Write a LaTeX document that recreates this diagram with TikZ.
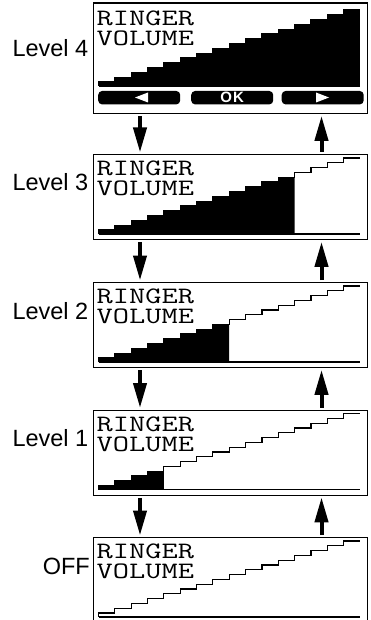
\documentclass[tikz,border=0pt]{standalone}
\usepackage{fontspec}
\setmainfont{Liberation Sans}
\usetikzlibrary{arrows.meta}
\newcommand{\lcdword}[1]{\scalebox{1.34}[1]{#1}}
\tikzset{
  lcd/.style={draw, line width=1.3pt, minimum width=274.5pt, inner sep=0pt, anchor=north west},
  lcdtext/.style={anchor=base west, inner sep=0pt, font=\ttfamily\fontsize{23.5}{23.5}\selectfont},
  lvl/.style={anchor=base east, inner sep=0pt, font=\fontsize{23.5}{23.5}\selectfont},
  btn/.style={fill=black, rounded corners=4pt, minimum width=82pt, minimum height=13.5pt, inner sep=0pt, anchor=north west},
  flow/.style={line width=4pt, -{Triangle[length=25pt,width=13pt]}, shorten <=2pt, shorten >=1.5pt},
  stairline/.style={line width=1.2pt},
}
% #1 = base y, #2 = number of filled steps
\newcommand{\lcdstairs}[2]{%
  \ifnum#2>0
  \fill (98.5,#1) \foreach \k in {1,...,#2} {
      -- ({98.5+(\k-1)*16.34},{#1-(4+(\k-1)*4.8)})
      -- ({98.5+\k*16.34},{#1-(4+(\k-1)*4.8)}) }
      -- ({98.5+#2*16.34},#1) -- cycle;
  \fi
  \draw[stairline] (98.5,#1) \foreach \k in {1,...,16} {
      -- ({98.5+(\k-1)*16.34},{#1-(4+(\k-1)*4.8)})
      -- ({98.5+\k*16.34},{#1-(4+(\k-1)*4.8)}) };
  \draw[line width=1.3pt] (98.5,#1) -- (360,#1);
}
\begin{document}
\begin{tikzpicture}[x=1pt,y=-1pt]
\useasboundingbox (0,0) rectangle (370,620);

% boxes
\node[lcd, minimum height=110.5pt] (b1) at (92.5,2.5) {};
\node[lcd, minimum height=85pt] (b2) at (92.5,154) {};
\node[lcd, minimum height=85pt] (b3) at (92.5,282) {};
\node[lcd, minimum height=85pt] (b4) at (92.5,409.5) {};
\node[lcd, minimum height=85pt] (b5) at (92.5,537) {};

% labels
\node[lvl] (l1) at (88.5,56.5) {Level 4};
\node[lvl] (l2) at (88.5,191) {Level 3};
\node[lvl] (l3) at (88.5,319) {Level 2};
\node[lvl] (l4) at (88.5,446.5) {Level 1};
\node[lvl] (l5) at (90,574) {OFF};

% texts
\node[lcdtext] (r1) at (96.5,26) {\lcdword{RINGER}};
\node[lcdtext] (v1) at (96.5,45.5) {\lcdword{VOLUME}};
\node[lcdtext] (r2) at (96.5,175.5) {\lcdword{RINGER}};
\node[lcdtext] (v2) at (96.5,195.5) {\lcdword{VOLUME}};
\node[lcdtext] (r3) at (96.5,303.5) {\lcdword{RINGER}};
\node[lcdtext] (v3) at (96.5,323.5) {\lcdword{VOLUME}};
\node[lcdtext] (r4) at (96.5,431) {\lcdword{RINGER}};
\node[lcdtext] (v4) at (96.5,451) {\lcdword{VOLUME}};
\node[lcdtext] (r5) at (96.5,558.5) {\lcdword{RINGER}};
\node[lcdtext] (v5) at (96.5,578.5) {\lcdword{VOLUME}};

% stairs
\lcdstairs{86}{16}
\lcdstairs{234}{12}
\lcdstairs{362}{8}
\lcdstairs{489.5}{4}
\lcdstairs{617}{0}

% buttons
\node[btn] (bl) at (98,90.75) {};
\node[btn] (bm) at (191,90.75) {};
\node[btn] (br) at (281.5,90.75) {};
\fill[white] (148,92.5) -- (135,97.5) -- (148,102.5) -- cycle;
\fill[white] (316,92.5) -- (329,97.5) -- (316,102.5) -- cycle;
\node[text=white, inner sep=0pt, font=\bfseries\fontsize{15}{15}\selectfont] (ok) at (bm.center) {O\kern1pt K};

% arrows
\coordinate (dx) at (140,0);
\coordinate (ux) at (321.5,0);
\draw[flow] (b1.south -| dx) -- (b2.north -| dx);
\draw[flow] (b2.south -| dx) -- (b3.north -| dx);
\draw[flow] (b3.south -| dx) -- (b4.north -| dx);
\draw[flow] (b4.south -| dx) -- (b5.north -| dx);
\draw[flow] (b2.north -| ux) -- (b1.south -| ux);
\draw[flow] (b3.north -| ux) -- (b2.south -| ux);
\draw[flow] (b4.north -| ux) -- (b3.south -| ux);
\draw[flow] (b5.north -| ux) -- (b4.south -| ux);
\end{tikzpicture}
\end{document}
